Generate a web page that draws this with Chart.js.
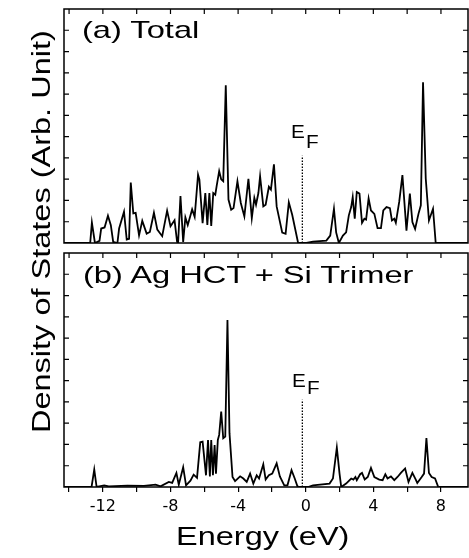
<!DOCTYPE html>
<html>
<head>
<meta charset="utf-8">
<script src="https://cdn.jsdelivr.net/npm/chart.js@4.4.1/dist/chart.umd.min.js"></script>
<style>
  body { margin: 0; background: #fff; }
  #wrap { position: relative; width: 469px; height: 558px; overflow: hidden; font-family: "Liberation Sans", Arial, sans-serif; color: #000; }
  .box { position: absolute; left: 0; width: 469px; }
  .txt { position: absolute; white-space: nowrap; line-height: 1; transform-origin: 0 0; }
</style>
</head>
<body>
<div id="wrap">
  <div class="box" style="top:0;height:250px"><canvas id="top"></canvas></div>
  <div class="box" style="top:250px;height:308px"><canvas id="bottom"></canvas></div>

  <div class="txt" style="left:82px;top:18px;font-size:24px;transform:scaleX(1.36)">(a) Total</div>
  <div class="txt" style="left:83px;top:263px;font-size:24px;transform:scaleX(1.36)">(b) Ag HCT + Si Trimer</div>
  <div class="txt" style="left:291px;top:123px;font-size:18px;transform:scaleX(1.15)">E<span style="position:relative;top:10px;margin-left:1px">F</span></div>
  <div class="txt" style="left:292px;top:372px;font-size:18px;transform:scaleX(1.15)">E<span style="position:relative;top:7px;margin-left:1px">F</span></div>
  <div class="txt" style="left:176px;top:524px;font-size:25px;transform:scaleX(1.3)">Energy (eV)</div>
  <div class="txt" style="left:0;top:0;font-size:25px;transform:translate(29px,433px) rotate(-90deg) scaleX(1.3)">Density of States (Arb. Unit)</div>
</div>

<script>
// (a) Total DOS
const energyA = [
  -14.3, -12.75, -12.65, -12.47, -12.2, -12.1, -11.9, -11.7, -11.53, -11.39,
  -11.14, -11.04, -10.75, -10.59, -10.45, -10.35, -10.2, -10.06, -9.86, -9.67,
  -9.41, -9.22, -8.98, -8.78, -8.49, -8.2, -8.0, -7.76, -7.61, -7.55,
  -7.41, -7.25, -7.12, -6.98, -6.72, -6.57, -6.37, -6.29, -6.1, -5.94,
  -5.82, -5.7, -5.59, -5.47, -5.35, -5.27, -5.12, -5.0, -4.88, -4.73,
  -4.57, -4.41, -4.27, -4.04, -3.84, -3.63, -3.39, -3.19, -3.04, -2.94,
  -2.8, -2.7, -2.51, -2.37, -2.18, -2.06, -1.88, -1.72, -1.39, -1.19,
  -1.0, -0.8, -0.45, 0.04, 0.43, 1.22, 1.45, 1.67, 1.8, 1.96,
  2.2, 2.39, 2.55, 2.69, 2.78, 2.9, 3.02, 3.18, 3.33, 3.47,
  3.57, 3.72, 3.86, 4.06, 4.25, 4.45, 4.59, 4.78, 4.98, 5.1,
  5.24, 5.33, 5.53, 5.72, 5.88, 5.96, 6.16, 6.31, 6.47, 6.67,
  6.81, 6.94, 7.1, 7.29, 7.53, 7.69, 9.6
];
const dosA = [
  0, 0, 0.96, 0, 0.1, 0.68, 0.73, 1.28, 0.84, 0.05,
  0, 0.68, 1.47, 0.16, 0.2, 2.84, 1.39, 1.42, 0.36, 1.04,
  0.44, 0.52, 1.42, 0.63, 0.32, 1.52, 0.79, 1.07, 0.05, 0,
  2.21, 0.05, 1.2, 0.84, 1.58, 1.23, 3.21, 2.98, 0.93, 2.35,
  0.85, 2.35, 0.8, 2.35, 2.27, 2.67, 3.38, 2.99, 2.9, 7.41,
  2.04, 1.56, 1.64, 2.9, 1.88, 1.25, 3.02, 1.17, 2.12, 1.8,
  2.35, 3.14, 1.72, 1.8, 2.64, 2.51, 3.7, 1.72, 0.49, 0.43,
  1.91, 1.33, 0, 0, 0.06, 0.11, 0.35, 1.61, 0.5, 0,
  0.35, 0.5, 1.3, 1.69, 2.16, 1.14, 2.4, 2.32, 0.95, 1.14,
  1.1, 2.09, 1.53, 1.37, 0.7, 0.7, 1.53, 1.69, 1.64, 1.06,
  1.14, 0.95, 1.93, 3.19, 1.45, 0.58, 2.32, 0.98, 0.66, 1.37,
  1.77, 7.55, 3.03, 1.06, 1.61, 0, 0
];

// (b) Ag HCT + Si trimer
const energyB = [
  -14.3, -12.67, -12.51, -12.37, -11.92, -11.65, -10.55, -9.57, -8.88, -8.59,
  -8.1, -7.9, -7.65, -7.51, -7.25, -7.08, -6.82, -6.63, -6.43, -6.24,
  -6.1, -5.9, -5.78, -5.67, -5.59, -5.49, -5.39, -5.31, -5.2, -5.12,
  -5.0, -4.88, -4.76, -4.63, -4.51, -4.33, -4.18, -3.88, -3.69, -3.49,
  -3.29, -3.1, -2.9, -2.76, -2.51, -2.37, -2.18, -1.98, -1.72, -1.53,
  -1.27, -1.08, -0.84, -0.65, -0.49, -0.35, 0.14, 0.43, 1.41, 1.61,
  1.84, 2.0, 2.1, 2.39, 2.69, 2.82, 2.94, 3.02, 3.22, 3.33,
  3.49, 3.67, 3.86, 4.06, 4.35, 4.55, 4.71, 4.84, 5.04, 5.24,
  5.43, 5.63, 5.88, 6.08, 6.31, 6.51, 6.6, 6.86, 7.0, 7.14,
  7.29, 7.45, 7.65, 7.84, 9.6
];
const dosB = [
  0, 0, 0.82, 0, 0.08, 0.03, 0.06, 0.05, 0.11, 0.03,
  0.24, 0.19, 0.66, 0.11, 0.93, 0.08, 0.3, 0.58, 0.43, 2.1,
  2.13, 0.55, 2.21, 0.5, 2.21, 0.55, 1.97, 0.63, 2.21, 2.45,
  3.55, 2.29, 2.37, 7.85, 2.53, 0.47, 0.28, 0.5, 0.4, 0.24,
  0.63, 0.16, 0.55, 0.4, 1.07, 0.35, 0.55, 0.63, 1.11, 0.5,
  0.08, 0.08, 0.79, 0.4, 0.03, 0, 0, 0.08, 0.16, 0.4,
  1.85, 0.63, 0, 0.16, 0.4, 0.35, 0.47, 0.32, 0.6, 0.66,
  0.35, 0.47, 0.9, 0.47, 0.35, 0.32, 0.6, 0.4, 0.5, 0.32,
  0.47, 0.66, 0.87, 0.24, 0.66, 0.35, 0.19, 0.47, 0.63, 2.3,
  0.66, 0.47, 0.4, 0, 0
];

// Fermi level marker (dotted line)
const fermiX = [-0.2, -0.2];
const fermiY = [0, 4.1];

// axis ticks
const xTicks = [-14, -12, -10, -8, -6, -4, -2, 0, 2, 4, 6, 8];
const yTicks = [1, 2, 3, 4, 5, 6, 7, 8, 9, 10];
const xMin = -14.3, xMax = 9.6, yMax = 11;

const toPts = (xs, ys) => xs.map((x, i) => ({ x: x, y: ys[i] }));

// frame box + inward ticks
const frameTicks = {
  id: 'frameTicks',
  afterDatasetsDraw(chart) {
    const { ctx, chartArea: a, scales: { x, y } } = chart;
    ctx.save();
    ctx.strokeStyle = '#000';
    ctx.lineWidth = 1.5;
    ctx.strokeRect(a.left, a.top, a.right - a.left, a.bottom - a.top);
    ctx.lineWidth = 1.2;
    ctx.beginPath();
    yTicks.forEach(v => {
      const py = y.getPixelForValue(v);
      ctx.moveTo(a.left, py); ctx.lineTo(a.left + 5, py);
      ctx.moveTo(a.right, py); ctx.lineTo(a.right - 5, py);
    });
    xTicks.forEach(v => {
      const px = x.getPixelForValue(v);
      ctx.moveTo(px, a.top); ctx.lineTo(px, a.top + 5);
    });
    ctx.stroke();
    ctx.restore();
  }
};

function makeChart(id, xs, ys, padding, showAxis) {
  return new Chart(document.getElementById(id), {
    type: 'line',
    data: {
      datasets: [
        {
          data: toPts(xs, ys),
          borderColor: '#000',
          borderWidth: 1.8,
          pointRadius: 0,
          tension: 0
        },
        {
          data: toPts(fermiX, fermiY),
          borderColor: '#000',
          borderWidth: 1.3,
          borderDash: [1.5, 1.5],
          pointRadius: 0
        }
      ]
    },
    options: {
      responsive: true,
      maintainAspectRatio: false,
      animation: false,
      layout: { padding: padding },
      plugins: { legend: { display: false }, tooltip: { enabled: false } },
      scales: {
        x: {
          type: 'linear',
          min: xMin,
          max: xMax,
          display: showAxis,
          afterFit: s => { if (showAxis) s.height = 30; },
          border: { display: false },
          grid: { drawOnChartArea: false, drawTicks: true, tickLength: 5, color: '#000', lineWidth: 1.2 },
          ticks: {
            stepSize: 2,
            includeBounds: false,
            autoSkip: false,
            maxRotation: 0,
            padding: 5,
            color: '#000',
            font: { family: '"DejaVu Sans", sans-serif', size: 16 },
            callback: v => (v % 4 === 0 ? String(v) : '')
          }
        },
        y: { min: 0, max: yMax, display: false }
      }
    },
    plugins: [frameTicks]
  });
}

makeChart('top', energyA, dosA, { left: 64, right: 1, top: 9, bottom: 7 }, false);
makeChart('bottom', energyB, dosB, { left: 64, right: 1, top: 3, bottom: 41 }, true);
</script>
</body>
</html>
